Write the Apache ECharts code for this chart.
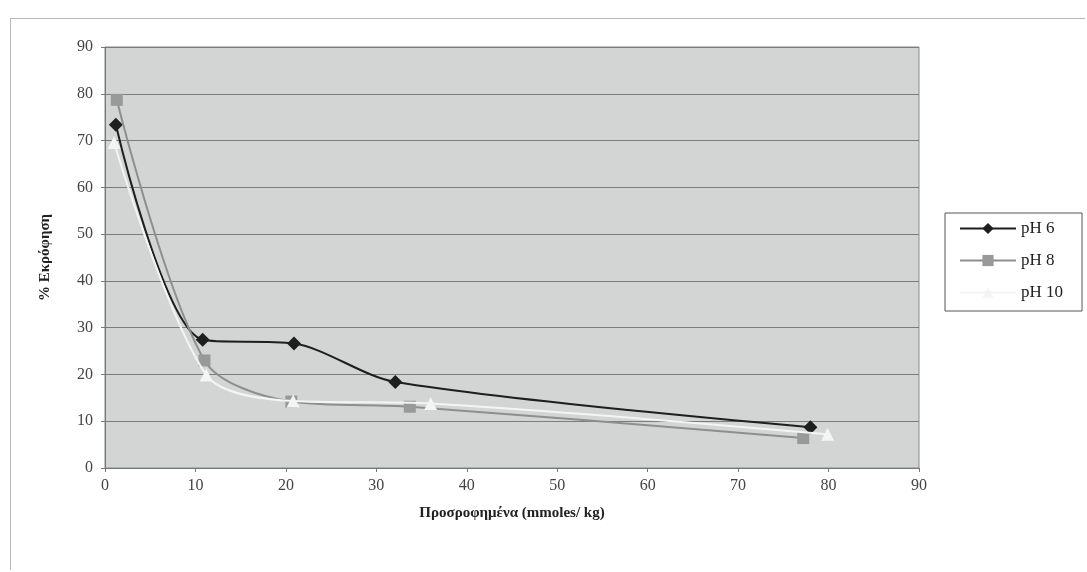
<!DOCTYPE html>
<html><head><meta charset="utf-8">
<script src="https://cdn.jsdelivr.net/npm/echarts@6/dist/echarts.min.js"></script>
<style>html,body{margin:0;padding:0;background:#fff}#c{width:1087px;height:572px}
#frame{position:absolute;left:10px;top:18px;width:1074px;height:551px;border:1px solid #b8b8b8;border-right:none;border-bottom:none;pointer-events:none}</style>
</head><body><div id="c"></div><div id="frame"></div>
<script>
const seriesNames = ['pH 6', 'pH 8', 'pH 10'];
const pH6 = [[1.2, 73.4], [10.8, 27.4], [20.9, 26.6], [32.1, 18.4], [78.0, 8.7]];
const pH8 = [[1.3, 78.7], [11.0, 23.0], [20.6, 14.2], [33.7, 13.1], [77.2, 6.4]];
const pH10 = [[1.0, 69.6], [11.2, 19.9], [20.8, 14.3], [36.0, 13.8], [79.9, 7.2]];
const xTicks = [0, 10, 20, 30, 40, 50, 60, 70, 80, 90];
const yTicks = [0, 10, 20, 30, 40, 50, 60, 70, 80, 90];

const font = 'Liberation Serif';
const chart = echarts.init(document.getElementById('c'));
chart.setOption({
  backgroundColor: '#ffffff',
  animation: false,
  textStyle: {fontFamily: font},
  grid: {left: 105, right: 168, top: 47, bottom: 104, show: true, backgroundColor: '#d3d5d5', borderColor: '#8a8a8a', borderWidth: 1},
  legend: {
    orient: 'vertical', left: 945, top: 213, itemWidth: 56, itemHeight: 14, itemGap: 15,
    padding: [7, 19, 10, 14], borderColor: '#555', borderWidth: 1, backgroundColor: '#fff',
    textStyle: {fontFamily: font, fontSize: 17, color: '#222'},
    data: seriesNames
  },
  xAxis: {
    type: 'value', min: xTicks[0], max: xTicks[xTicks.length-1], interval: 10,
    name: 'Προσροφημένα (mmoles/ kg)', nameLocation: 'middle', nameGap: 38,
    nameTextStyle: {fontFamily: font, fontSize: 15, fontWeight: 'bold', color: '#222'},
    axisLine: {show: true, lineStyle: {color: '#777'}},
    axisTick: {show: true, inside: false, length: 4, lineStyle: {color: '#777'}},
    axisLabel: {fontFamily: font, fontSize: 16, color: '#444', margin: 10},
    splitLine: {show: false}
  },
  yAxis: {
    type: 'value', min: yTicks[0], max: yTicks[yTicks.length-1], interval: 10,
    name: '% Εκρόφηση', nameLocation: 'middle', nameGap: 52, nameRotate: 90,
    nameTextStyle: {fontFamily: font, fontSize: 15, fontWeight: 'bold', color: '#222'},
    axisLine: {show: true, lineStyle: {color: '#777'}},
    axisTick: {show: true, length: 4, lineStyle: {color: '#777'}},
    axisLabel: {fontFamily: font, fontSize: 16, color: '#444', margin: 12},
    splitLine: {show: true, lineStyle: {color: '#7c7c7c', width: 1}}
  },
  series: [
    {name: seriesNames[0], type: 'line', data: pH6, smooth: 0.3, symbol: 'diamond', symbolSize: 14,
     lineStyle: {color: '#1e1e1e', width: 2}, itemStyle: {color: '#1e1e1e'}, z: 3},
    {name: seriesNames[1], type: 'line', data: pH8, smooth: 0.3, symbol: 'rect', symbolSize: 12,
     lineStyle: {color: '#8e8e8e', width: 2}, itemStyle: {color: '#999999'}, z: 4},
    {name: seriesNames[2], type: 'line', data: pH10, smooth: 0.3, symbol: 'triangle', symbolSize: 13,
     lineStyle: {color: '#f4f4f4', width: 2}, itemStyle: {color: '#f4f4f4'}, z: 5}
  ]
});
</script></body></html>
